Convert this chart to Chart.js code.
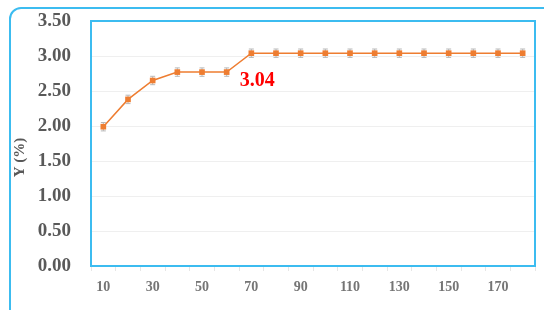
<!DOCTYPE html>
<html>
<head>
<meta charset="utf-8">
<script src="https://cdn.jsdelivr.net/npm/chart.js@4.4.1/dist/chart.umd.min.js"></script>
<style>
  html, body { margin: 0; padding: 0; background: #fff; overflow: hidden; }
  #wrap { position: relative; width: 544px; height: 310px; }
  #frame {
    position: absolute; left: 9px; top: 7px; width: 620px; height: 400px;
    border: 2px solid #3cbcf0; border-radius: 12px; box-sizing: border-box;
  }
  canvas { position: absolute; left: 0; top: 0; }
</style>
</head>
<body>
<div id="wrap">
  <div id="frame"></div>
  <canvas id="c" width="544" height="310"></canvas>
</div>
<script>
// ---------- data ----------
const xLabels = ["10","20","30","40","50","60","70","80","90","100","110","120","130","140","150","160","170","180"];
const yValues = [1.99, 2.38, 2.65, 2.77, 2.77, 2.77, 3.04, 3.04, 3.04, 3.04, 3.04, 3.04, 3.04, 3.04, 3.04, 3.04, 3.04, 3.04];
const yErrors = [0.06, 0.06, 0.06, 0.06, 0.06, 0.06, 0.06, 0.06, 0.06, 0.06, 0.06, 0.06, 0.06, 0.06, 0.06, 0.06, 0.06, 0.06];
const yTicks = [0, 0.5, 1, 1.5, 2, 2.5, 3, 3.5];
const yTitle = "Y (%)";
const noteIndex = 6;
const noteText = "3.04";

const SERIF = "'Liberation Serif', 'Times New Roman', serif";
const ORANGE = "#ee7d31";
const BLUE = "#3cbcf0";

// error bars, plot frame, axis title and the red value note
const extras = {
  id: "extras",
  beforeDatasetsDraw(chart) {
    const ctx = chart.ctx, x = chart.scales.x, y = chart.scales.y;
    ctx.save();
    ctx.strokeStyle = "#b8b8b8";
    ctx.lineWidth = 1;
    yValues.forEach((v, i) => {
      const px = x.getPixelForValue(i);
      const top = y.getPixelForValue(v + yErrors[i]);
      const bot = y.getPixelForValue(v - yErrors[i]);
      ctx.beginPath();
      ctx.moveTo(px, top); ctx.lineTo(px, bot);
      ctx.moveTo(px - 2.5, top); ctx.lineTo(px + 2.5, top);
      ctx.moveTo(px - 2.5, bot); ctx.lineTo(px + 2.5, bot);
      ctx.stroke();
    });
    ctx.restore();
  },
  afterDatasetsDraw(chart) {
    const ctx = chart.ctx, a = chart.chartArea, x = chart.scales.x, y = chart.scales.y;
    ctx.save();
    ctx.strokeStyle = BLUE;
    ctx.lineWidth = 2;
    ctx.strokeRect(a.left, a.top, a.right - a.left, a.bottom - a.top);
    ctx.fillStyle = "#ff0000";
    ctx.font = "bold 20px " + SERIF;
    ctx.textAlign = "center";
    ctx.textBaseline = "middle";
    ctx.fillText(noteText, x.getPixelForValue(noteIndex) + 6, y.getPixelForValue(yValues[noteIndex]) + 28);
    // y title sits a bit below the plot centre in the original
    ctx.translate(20, (a.top + a.bottom) / 2 + 14);
    ctx.rotate(-Math.PI / 2);
    ctx.fillStyle = "#595959";
    ctx.font = "bold 15px " + SERIF;
    ctx.fillText(yTitle, 0, 0);
    ctx.restore();
  }
};

new Chart(document.getElementById("c"), {
  type: "line",
  data: {
    labels: xLabels,
    datasets: [{
      data: yValues,
      borderColor: ORANGE,
      borderWidth: 1.5,
      backgroundColor: ORANGE,
      pointStyle: "rect",
      pointRadius: 4,
      pointBorderWidth: 0,
      tension: 0
    }]
  },
  options: {
    responsive: false,
    animation: false,
    layout: { padding: { top: 21, right: 9, left: 0, bottom: 0 } },
    plugins: { legend: { display: false }, tooltip: { enabled: false } },
    scales: {
      x: {
        offset: true,
        border: { display: false },
        grid: { drawOnChartArea: false, drawTicks: true, tickLength: 5, color: "#e6e6e6", offset: true },
        ticks: {
          autoSkip: false, maxRotation: 0, padding: 8,
          color: "#757575",
          font: { family: SERIF, size: 14, weight: "bold" },
          callback: (v, i) => (i % 2 === 0 ? xLabels[i] : "")
        },
        afterFit: s => { s.height = 44; s.paddingLeft = 0; s.paddingRight = 0; }
      },
      y: {
        min: 0, max: 3.5,
        border: { display: false },
        afterBuildTicks: s => { s.ticks = yTicks.map(v => ({ value: v })); },
        grid: { color: "#efefef", drawTicks: false },
        ticks: {
          padding: 20,
          color: "#595959",
          font: { family: SERIF, size: 19, weight: "bold" },
          callback: v => v.toFixed(2)
        },
        afterFit: s => { s.width = 91; s.paddingTop = 0; s.paddingBottom = 0; }
      }
    }
  },
  plugins: [extras]
});
</script>
</body>
</html>
